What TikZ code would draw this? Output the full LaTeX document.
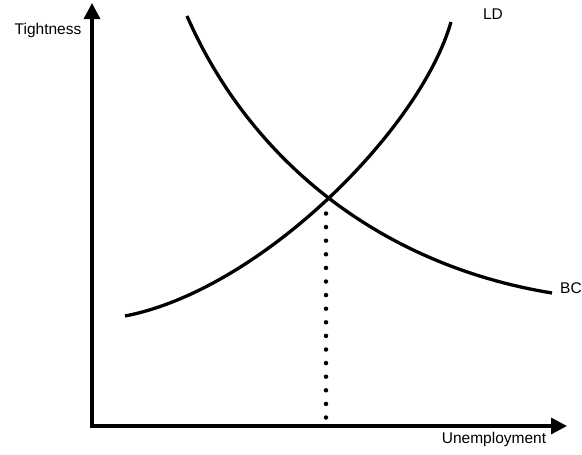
\documentclass[tikz,border=0pt]{standalone}
\usepackage{fontspec}
\setmainfont{Liberation Sans}
\usetikzlibrary{arrows.meta}
\begin{document}
\begin{tikzpicture}[x=1pt,y=-1pt,
  axis/.style={line width=3.3pt,-{Triangle[length=16pt,width=16pt]}},
  curve/.style={line width=3.3pt},
  lbl/.style={font=\fontsize{15.5}{18}\selectfont,inner sep=0pt},
  dotline/.style={line width=4.5pt,line cap=round,dash pattern=on 0pt off 13.6pt}]
\useasboundingbox (0,0) rectangle (582,455);
\coordinate (origin) at (92,426);
\coordinate (ytip) at (92,3);
\coordinate (xtip) at (567,426);
\coordinate (eq) at (326,200);
\coordinate (eqfoot) at (326,426);
\draw[axis] (origin) -- (ytip);
\draw[axis] ([xshift=-1.6pt]origin) -- (xtip);
\draw[curve] (187,16) .. controls (250,160) and (380,265) .. (552,293);
\draw[curve] (125,316) .. controls (260,290) and (420,130) .. (451,22);
\draw[dotline] ([yshift=-13.5pt]eq) -- (eqfoot);
\node[lbl] (tight) at (48,30) {Tightness};
\node[lbl] (ld) at (493,14) {LD};
\node[lbl] (bc) at (571,288) {BC};
\node[lbl] (unemp) at (494,439) {Unemployment};
\end{tikzpicture}
\end{document}
